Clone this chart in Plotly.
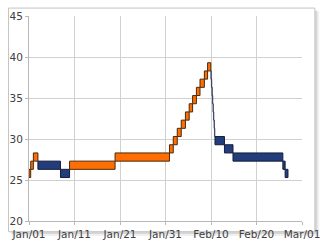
import plotly.graph_objects as go
from datetime import datetime

# ---- data: renko-style bricks (start time, end time, open level, close level)
brick_start = [
    "2008-01-01 00:00", "2008-01-01 09:00", "2008-01-01 23:00",
    "2008-01-02 23:00", "2008-01-07 22:00",
    "2008-01-09 22:00", "2008-01-19 22:00",
    "2008-01-31 21:00", "2008-02-01 17:00", "2008-02-02 14:00", "2008-02-03 11:00",
    "2008-02-04 09:00", "2008-02-05 05:00", "2008-02-05 23:00", "2008-02-06 19:00",
    "2008-02-07 14:00", "2008-02-08 13:00", "2008-02-09 06:00",
    "2008-02-09 23:00", "2008-02-10 01:45", "2008-02-10 04:30", "2008-02-10 07:15",
    "2008-02-10 10:00", "2008-02-10 12:45", "2008-02-10 15:30", "2008-02-10 18:15",
    "2008-02-10 21:00", "2008-02-12 23:00", "2008-02-14 20:00",
    "2008-02-25 19:00", "2008-02-26 07:00",
]
brick_end = brick_start[1:] + ["2008-02-26 22:00"]
brick_open = [
    25.3, 26.3, 27.3,
    27.3, 26.3,
    26.3, 27.3,
    28.3, 29.3, 30.3, 31.3, 32.3, 33.3, 34.3, 35.3, 36.3, 37.3, 38.3,
    38.3, 37.3, 36.3, 35.3, 34.3, 33.3, 32.3, 31.3,
    30.3, 29.3, 28.3, 27.3, 26.3,
]
brick_close = [
    26.3, 27.3, 28.3,
    26.3, 25.3,
    27.3, 28.3,
    29.3, 30.3, 31.3, 32.3, 33.3, 34.3, 35.3, 36.3, 37.3, 38.3, 39.3,
    37.3, 36.3, 35.3, 34.3, 33.3, 32.3, 31.3, 30.3,
    29.3, 28.3, 27.3, 26.3, 25.3,
]

x_range = ["2008-01-01", "2008-03-01"]
y_range = [20, 45]
x_tick_step_days = 10
y_tick_step = 5

UP_FILL, UP_LINE = "#FF6E05", "#4a2a0a"
DN_FILL, DN_LINE = "#233D7B", "#141d3c"

W, H = 330, 250
L, R, T, B = 23, 21, 10, 20
PW, PH = W - L - R, H - T - B


def px(x):
    return (x - L) / PW


def py(y):
    return 1 - (y - T) / PH


fig = go.Figure()
for up in (True, False):
    xs, ws, bases, hs, lws = [], [], [], [], []
    for s, e, o, c in zip(brick_start, brick_end, brick_open, brick_close):
        if (c > o) != up:
            continue
        ds = datetime.strptime(s, "%Y-%m-%d %H:%M")
        de = datetime.strptime(e, "%Y-%m-%d %H:%M")
        dur = (de - ds).total_seconds() * 1000
        xs.append(s)
        ws.append(dur)
        bases.append(min(o, c))
        hs.append(abs(c - o))
        lws.append(0.5 if dur < 6 * 3600 * 1000 else 1)
    fig.add_trace(go.Bar(
        x=xs, y=hs, base=bases, width=ws, offset=0,
        marker=dict(color=UP_FILL if up else DN_FILL,
                    line=dict(color=UP_LINE if up else DN_LINE, width=lws)),
        showlegend=False, hoverinfo="skip",
    ))

shapes = [
    # soft drop shadow
    dict(type="rect", xref="paper", yref="paper", layer="below",
         x0=px(5), x1=px(327), y0=py(5), y1=py(246),
         fillcolor="rgba(0,0,0,0.06)", line=dict(width=0)),
    dict(type="rect", xref="paper", yref="paper", layer="below",
         x0=px(4), x1=px(325), y0=py(4), y1=py(244),
         fillcolor="rgba(0,0,0,0.10)", line=dict(width=0)),
    # frame
    dict(type="rect", xref="paper", yref="paper", layer="below",
         x0=px(1.5), x1=px(322.5), y0=py(1.5), y1=py(241.5),
         fillcolor="white", line=dict(color="#c4c4c4", width=1)),
]

axis_font = dict(family="DejaVu Sans, Verdana, sans-serif", size=10.5, color="#404040")
fig.update_layout(
    width=W, height=H,
    margin=dict(l=L, r=R, t=T, b=B, pad=0),
    paper_bgcolor="white", plot_bgcolor="rgba(0,0,0,0)",
    barmode="overlay",
    shapes=shapes,
    xaxis=dict(type="date", range=x_range, tick0=x_range[0],
               dtick=x_tick_step_days * 86400000, tickformat="%b/%d",
               showgrid=True, gridcolor="#d0d0d0", gridwidth=1,
               showline=True, linecolor="#b8b8b8", linewidth=1,
               ticks="outside", ticklen=3, tickcolor="#b8b8b8",
               tickfont=axis_font, zeroline=False, fixedrange=True),
    yaxis=dict(range=y_range, dtick=y_tick_step, tick0=0,
               showgrid=True, gridcolor="#d0d0d0", gridwidth=1,
               showline=True, linecolor="#b8b8b8", linewidth=1,
               ticks="outside", ticklen=3, tickcolor="#b8b8b8",
               tickfont=axis_font, zeroline=False, fixedrange=True),
)

fig.write_html("out.html", config={"displayModeBar": False})
